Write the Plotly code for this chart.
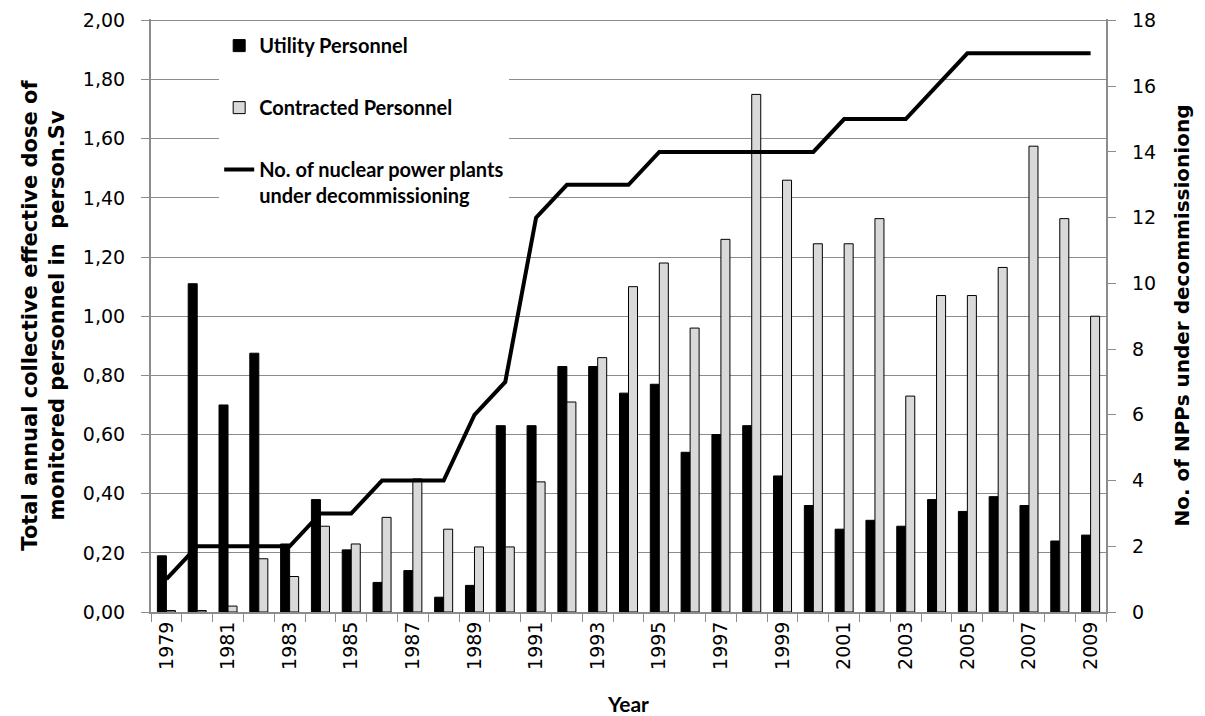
import plotly.graph_objects as go

years = [str(y) for y in range(1979, 2010)]
utility = [0.19, 1.11, 0.70, 0.875, 0.23, 0.38, 0.21, 0.10, 0.14, 0.05, 0.09,
           0.63, 0.63, 0.83, 0.83, 0.74, 0.77, 0.54, 0.60, 0.63, 0.46,
           0.36, 0.28, 0.31, 0.29, 0.38, 0.34, 0.39, 0.36, 0.24, 0.26]
contracted = [0.005, 0.005, 0.02, 0.18, 0.12, 0.29, 0.23, 0.32, 0.45, 0.28, 0.22,
              0.22, 0.44, 0.71, 0.86, 1.10, 1.18, 0.96, 1.26, 1.75, 1.46,
              1.245, 1.245, 1.33, 0.73, 1.07, 1.07, 1.165, 1.575, 1.33, 1.00]
npps = [1, 2, 2, 2, 2, 3, 3, 4, 4, 4, 6, 7, 12, 13, 13, 13, 14, 14, 14, 14, 14,
        14, 15, 15, 15, 16, 17, 17, 17, 17, 17]
tick_text = [y if int(y) % 2 == 1 else "" for y in years]

GRID = "#8c8c8c"
TICKFONT = dict(family="DejaVu Sans", size=19, color="#000000")
TITLEFONT = "DejaVu Sans"
NB = "\u00a0"

fig = go.Figure()
fig.add_trace(go.Bar(
    x=years, y=utility, name="<b>Utility Personnel</b>",
    marker=dict(color="#000000", line=dict(color="#000000", width=1)),
    legendgroup="a"))
fig.add_trace(go.Bar(
    x=years, y=contracted, name="<b>Contracted Personnel</b>",
    marker=dict(color="#d9d9d9", line=dict(color="#000000", width=1)),
    legendgroup="b"))
fig.add_trace(go.Scatter(
    x=years, y=npps, yaxis="y2", mode="lines",
    name="<b>No. of nuclear power plants<br>under decommissioning</b>",
    line=dict(color="#000000", width=4), legendgroup="c"))

fig.update_layout(
    width=1197, height=708,
    paper_bgcolor="white", plot_bgcolor="white",
    margin=dict(l=143, r=99, t=11, b=104),
    separators=", ",
    barmode="group", bargap=0.415, bargroupgap=0,
    showlegend=True,
    legend=dict(
        x=0.0714, y=0.988, xanchor="left", yanchor="top",
        bgcolor="white", borderwidth=0,
        font=dict(family="Lato", size=20, color="#000000"),
        tracegroupgap=33, valign="top", itemwidth=30,
    ),
    xaxis=dict(
        type="category", tickmode="array", tickvals=years, ticktext=tick_text,
        tickangle=-90, tickfont=TICKFONT, tickson="boundaries", automargin=False,
        ticks="outside", ticklen=8, tickcolor=GRID,
        showline=True, linecolor=GRID, linewidth=2, showgrid=False,
        title=dict(text="<b>Year</b>", font=dict(family="Lato", size=21, color="#000"), standoff=28),
    ),
    yaxis=dict(
        range=[0, 2.005], dtick=0.2, tick0=0, tickformat=".2f", tickfont=TICKFONT,
        ticksuffix=NB + NB, automargin=False,
        ticks="outside", ticklen=8, tickcolor=GRID,
        showline=True, linecolor=GRID, linewidth=2,
        showgrid=True, gridcolor=GRID, gridwidth=1, zeroline=False,
        title=dict(text="<b>Total annual collective effective dose of<br>monitored personnel in  person.Sv</b>",
                   font=dict(family=TITLEFONT, size=21, color="#000"), standoff=12),
    ),
    yaxis2=dict(
        range=[0, 18.045], dtick=2, tick0=0, overlaying="y", side="right", tickfont=TICKFONT,
        tickprefix=NB + NB, automargin=False,
        ticks="outside", ticklen=8, tickcolor=GRID,
        showline=True, linecolor=GRID, linewidth=2, showgrid=False, zeroline=False,
        title=dict(text="<b>No. of NPPs under decommissioniong</b>",
                   font=dict(family=TITLEFONT, size=20, color="#000"), standoff=20),
    ),
)

fig.write_html("out.html")
